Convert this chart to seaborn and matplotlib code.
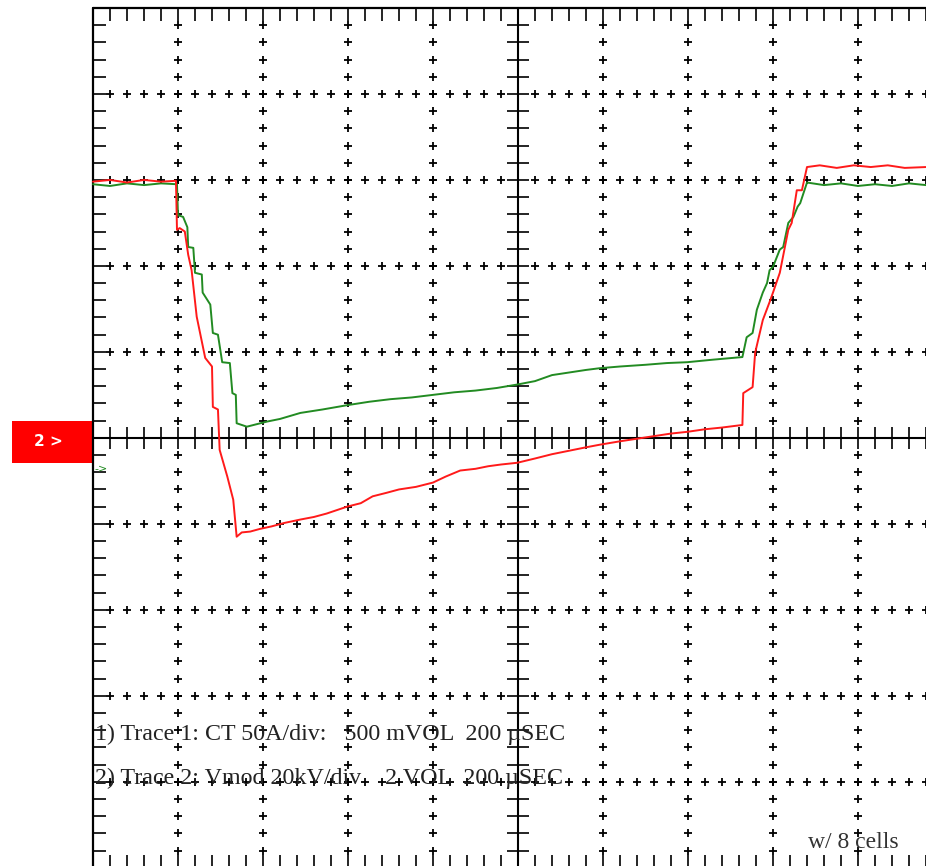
import matplotlib
matplotlib.use("Agg")
import matplotlib.pyplot as plt
import numpy as np
import pandas as pd
import seaborn as sns
from matplotlib.patches import Rectangle

# Scope traces, in screen divisions (x: 0..10 from the left frame, y: -5..5 around the centre line)
red_x = [0.00, 0.20, 0.40, 0.60, 0.80, 0.976, 0.988, 1.02, 1.08, 1.12, 1.16, 1.22, 1.32, 1.40, 1.41,
         1.47, 1.49, 1.58, 1.65, 1.69, 1.75, 1.85, 1.96, 2.10, 2.25, 2.44, 2.60, 2.75, 2.99, 3.15,
         3.29, 3.45, 3.60, 3.80, 4.00, 4.15, 4.32, 4.50, 4.65, 4.80, 4.99, 5.20, 5.40, 5.60, 5.80,
         5.96, 6.20, 6.40, 6.60, 6.80, 6.99, 7.20, 7.40, 7.64, 7.65, 7.76, 7.79, 7.88, 7.96, 8.00,
         8.08, 8.11, 8.18, 8.22, 8.28, 8.34, 8.40, 8.55, 8.75, 8.95, 9.15, 9.35, 9.55, 9.80]
red_y = [2.98, 3.00, 2.97, 3.00, 2.98, 2.99, 2.42, 2.44, 2.40, 2.13, 1.95, 1.41, 0.93, 0.83, 0.36,
         0.33, -0.14, -0.45, -0.72, -1.15, -1.10, -1.09, -1.06, -1.03, -0.99, -0.95, -0.92, -0.88, -0.80, -0.76,
         -0.68, -0.64, -0.60, -0.57, -0.52, -0.45, -0.38, -0.36, -0.33, -0.31, -0.29, -0.24, -0.19, -0.15, -0.11,
         -0.08, -0.04, -0.01, 0.02, 0.05, 0.07, 0.10, 0.12, 0.15, 0.52, 0.59, 0.99, 1.37, 1.58, 1.69,
         1.92, 2.07, 2.42, 2.50, 2.88, 2.88, 3.15, 3.17, 3.14, 3.17, 3.15, 3.17, 3.14, 3.15]

green_x = [0.00, 0.20, 0.40, 0.60, 0.80, 0.988, 1.00, 1.06, 1.11, 1.12, 1.18, 1.20, 1.28, 1.29, 1.38,
           1.41, 1.47, 1.52, 1.61, 1.64, 1.68, 1.69, 1.81, 2.05, 2.20, 2.44, 2.70, 2.99, 3.25, 3.50,
           3.75, 4.00, 4.25, 4.50, 4.75, 4.99, 5.20, 5.40, 5.60, 5.80, 5.96, 6.20, 6.50, 6.75, 6.99,
           7.30, 7.64, 7.69, 7.76, 7.81, 7.88, 7.93, 7.96, 8.00, 8.08, 8.12, 8.18, 8.24, 8.29, 8.32,
           8.40, 8.60, 8.80, 9.00, 9.20, 9.40, 9.60, 9.80]
green_y = [2.95, 2.93, 2.96, 2.94, 2.96, 2.95, 2.59, 2.57, 2.45, 2.22, 2.21, 1.92, 1.90, 1.69, 1.55,
           1.22, 1.20, 0.88, 0.87, 0.52, 0.50, 0.17, 0.13, 0.19, 0.22, 0.29, 0.33, 0.38, 0.42, 0.45,
           0.47, 0.50, 0.53, 0.55, 0.58, 0.62, 0.66, 0.73, 0.76, 0.79, 0.81, 0.83, 0.85, 0.87, 0.88,
           0.91, 0.94, 1.17, 1.22, 1.49, 1.69, 1.80, 1.95, 1.99, 2.19, 2.22, 2.50, 2.57, 2.69, 2.73,
           2.97, 2.94, 2.96, 2.93, 2.95, 2.93, 2.96, 2.94]

label_1 = "1) Trace 1: CT 50A/div:   500 mVOL  200 \u00b5SEC"
label_2 = "2) Trace 2: Vmod 20kV/div    2 VOL  200 \u00b5SEC"
note = "w/ 8 cells"
ch_marker = "2 >"

sns.set_style("white")
plt.rcParams["font.family"] = ["Liberation Serif", "DejaVu Serif"]

fig = plt.figure(figsize=(9.26, 8.66), dpi=100)
ax = fig.add_axes([0, 0, 1, 1])
ax.set_xlim(-93 / 85, (926 - 93) / 85)
ax.set_ylim(-4.98, 5.093)
ax.axis("off")

ink = "black"
sub = np.round(np.arange(0, 10.01, 0.2), 2)
sub_y = np.round(np.arange(-5, 5.01, 0.2), 2)

# frame
ax.plot([0, 0], [-5, 5], color=ink, lw=1.6)
ax.plot([0, 10], [5, 5], color=ink, lw=1.6)
ax.plot([0, 10], [-5, -5], color=ink, lw=1.6)
ax.vlines(sub, 5 - 0.15, 5, color=ink, lw=1.2)
ax.vlines(sub, -5, -5 + 0.15, color=ink, lw=1.2)
ax.hlines(sub_y, 0, 0.15, color=ink, lw=1.2)

# centre cross
ax.plot([0, 10], [0, 0], color=ink, lw=1.5)
ax.plot([5, 5], [-5, 5], color=ink, lw=1.5)
ax.vlines(sub, -0.13, 0.13, color=ink, lw=1.2)
ax.hlines(sub_y, 5 - 0.13, 5 + 0.13, color=ink, lw=1.2)

# dotted graticule made of little crosses
for gx in [1, 2, 3, 4, 6, 7, 8, 9]:
    ys = [v for v in sub_y if abs(v) > 0.01 and abs(abs(v) - 5) > 0.01]
    ax.plot([gx] * len(ys), ys, ls="none", marker="+", ms=5.5, mew=1.3, color=ink)
for gy in [-4, -3, -2, -1, 1, 2, 3, 4]:
    xs = [v for v in sub if v > 0.01 and abs(v - 5) > 0.01 and v < 9.99]
    ax.plot(xs, [gy] * len(xs), ls="none", marker="+", ms=5.5, mew=1.3, color=ink)

# traces
red = pd.DataFrame({"x": red_x, "y": red_y})
green = pd.DataFrame({"x": green_x, "y": green_y})
sns.lineplot(data=green, x="x", y="y", sort=False, color="#228b22", lw=1.4, ax=ax)
sns.lineplot(data=red, x="x", y="y", sort=False, color="#ff1a1a", lw=1.4, ax=ax)

# channel markers
ax.add_patch(Rectangle((-0.953, -0.29), 0.953, 0.488, color="#ff0000", lw=0, clip_on=False))
ax.text(-0.52, -0.04, ch_marker, color="white", fontsize=11, fontweight="bold",
        family="DejaVu Sans", ha="center", va="center")
ax.text(0.02, -0.36, "->", color="#228b22", fontsize=8, family="DejaVu Sans", ha="left", va="center")

# annotations
ax.text(0.02, -3.45, label_1, fontsize=17.3, ha="left", va="center", color="#222222")
ax.text(0.02, -3.96, label_2, fontsize=17.3, ha="left", va="center", color="#222222")
ax.text(8.41, -4.71, note, fontsize=17, ha="left", va="center", color="#333333")

fig.savefig("out.png", dpi=100, facecolor="white")
